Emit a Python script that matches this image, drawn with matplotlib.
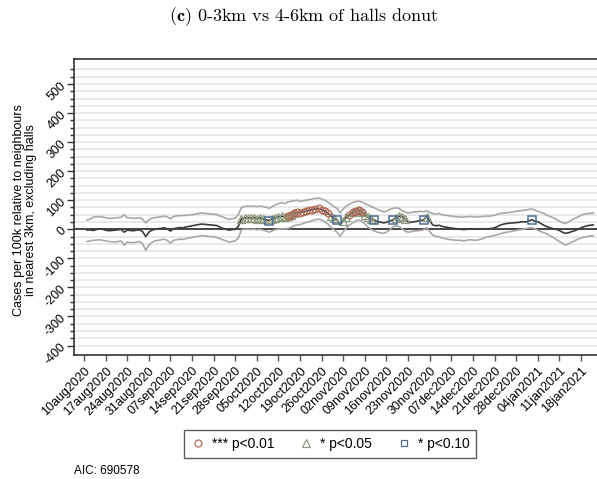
import numpy as np
import matplotlib
matplotlib.use("Agg")
import matplotlib.pyplot as plt
from matplotlib.lines import Line2D

plt.rcParams["font.family"] = ["Liberation Sans", "DejaVu Sans"]
plt.rcParams["mathtext.fontset"] = "cm"

# Days since 10aug2020 (daily series runs 11aug2020 .. 22jan2021)
days = np.arange(1, 166)

estimate = [
    -3, -2, -4, -1, 2, 0, -3, -5, -4, -3,
    -2, 0, -10, -3, -4, -5, -3, -2, -8, -25,
    -10, -3, 0, 2, 3, 5, 1, -6, 2, 4,
    6, 5, 8, 10, 12, 14, 16, 18, 17, 16,
    15, 14, 13, 8, 3, 0, -3, -1, 0, 10,
    36, 39, 40, 38, 40, 37, 39, 36, 33, 30,
    35, 40, 43, 45, 42, 47, 50, 55, 58, 57,
    60, 63, 65, 68, 70, 72, 68, 62, 55, 45,
    38, 32, 15, 30, 42, 50, 58, 62, 66, 60,
    50, 42, 36, 32, 26, 25, 22, 24, 28, 32,
    40, 45, 44, 35, 25, 24, 26, 28, 30, 32,
    44, 28, 15, 12, 14, 10, 8, 6, 4, 3,
    1, 0, -1, 0, 2, 1, 0, 1, 2, 1,
    2, 3, 5, 10, 15, 18, 20, 21, 22, 23,
    24, 26, 25, 28, 33, 28, 26, 20, 14, 9,
    5, 2, 0, -4, -10, -14, -12, -8, -5, 0,
    5, 9, 12, 14, 15,
]

upper = [
    32, 35, 42, 43, 44, 42, 40, 38, 38, 39,
    40, 42, 50, 40, 39, 38, 38, 40, 35, 22,
    32, 38, 40, 42, 43, 45, 43, 36, 44, 46,
    47, 47, 48, 49, 50, 52, 54, 56, 55, 54,
    53, 52, 51, 46, 42, 38, 34, 36, 38, 50,
    75, 78, 80, 79, 80, 78, 80, 78, 76, 72,
    78, 84, 88, 92, 88, 94, 96, 98, 100, 96,
    98, 100, 102, 105, 106, 108, 104, 100, 94, 86,
    78, 72, 56, 70, 80, 86, 92, 95, 97, 94,
    88, 84, 78, 74, 68, 64, 60, 62, 68, 72,
    74, 72, 64, 60, 56, 58, 60, 60, 62, 60,
    64, 58, 54, 52, 55, 50, 48, 47, 45, 44,
    43, 42, 42, 43, 44, 43, 42, 43, 44, 45,
    45, 46, 48, 52, 55, 56, 57, 58, 60, 62,
    63, 65, 66, 68, 70, 66, 62, 58, 55, 48,
    44, 40, 34, 28, 22, 20, 26, 32, 38, 42,
    48, 52, 54, 55, 56,
]

lower = [
    -42, -40, -38, -37, -36, -38, -40, -42, -43, -44,
    -42, -40, -55, -44, -46, -46, -44, -42, -50, -72,
    -55, -45, -40, -38, -36, -34, -38, -48, -38, -36,
    -34, -35, -32, -30, -28, -26, -24, -22, -22, -24,
    -25, -26, -28, -32, -36, -40, -44, -42, -40, -30,
    -2, 0, 1, -1, 1, -2, 0, -3, -6, -10,
    -5, -2, 1, 2, 0, 3, 6, 12, 15, 16,
    20, 24, 26, 30, 33, 35, 32, 26, 18, 8,
    -2, -10, -24, -8, 5, 14, 22, 28, 32, 28,
    18, 8, 0, -5, -10, -12, -14, -10, -2, 8,
    12, 10, 2, -6, -10, -8, -6, -5, -4, -2,
    6, -8, -20, -24, -26, -30, -32, -34, -36, -37,
    -38, -38, -40, -38, -36, -37, -38, -36, -33, -28,
    -26, -24, -21, -18, -15, -12, -10, -8, -6, -4,
    -2, 0, 2, 4, 5, 2, -3, -8, -12, -16,
    -22, -28, -35, -42, -48, -54, -50, -44, -40, -34,
    -30, -27, -25, -23, -22,
]

# Days flagged at each significance level
sig01_days = list(range(66, 80)) + list(range(86, 91))
sig05_days = (list(range(51, 59)) + list(range(61, 69)) + [80, 81, 84, 85]
              + list(range(87, 94)) + list(range(101, 105)) + [111])
sig10_days = [60, 82, 94, 100, 110, 145]

tick_days = list(range(0, 162, 7))
tick_labels = [
    "10aug2020", "17aug2020", "24aug2020", "31aug2020", "07sep2020",
    "14sep2020", "21sep2020", "28sep2020", "05oct2020", "12oct2020",
    "19oct2020", "26oct2020", "02nov2020", "09nov2020", "16nov2020",
    "23nov2020", "30nov2020", "07dec2020", "14dec2020", "21dec2020",
    "28dec2020", "04jan2021", "11jan2021", "18jan2021",
]

est = np.array(estimate, dtype=float)
up = np.array(upper, dtype=float)
lo = np.array(lower, dtype=float)

W, H = 597, 479
fig = plt.figure(figsize=(W / 100, H / 100), dpi=100)
ax = fig.add_axes([74 / W, (H - 355) / H, 527 / W, 296 / H])

ax.set_xlim(-3.24, 167.5)
ax.set_ylim(-432.6, 586)

# grid every 25 units
ax.set_yticks(np.arange(-400, 501, 100))
ax.set_yticks(np.arange(-400, 551, 25), minor=True)
ax.grid(True, which="both", axis="y", color="#e5e5e5", lw=1.2)
ax.set_axisbelow(True)

ax.axhline(0, color="#2b2b2b", lw=1.2, zorder=2)
ax.plot(days, up, color="#a8a8a8", lw=1.2, zorder=3)
ax.plot(days, lo, color="#a8a8a8", lw=1.2, zorder=3)
ax.plot(days, est, color="#3c3c3c", lw=1.2, zorder=4)

c01 = "#b06a55"
c05 = "#8b9a7c"
c10 = "#4f6d93"
idx01 = np.array(sig01_days) - 1
idx05 = np.array(sig05_days) - 1
idx10 = np.array(sig10_days) - 1
ax.plot(days[idx05], est[idx05], ls="none", marker="^", ms=5.2, mfc="none",
        mec=c05, mew=0.9, zorder=5)
ax.plot(days[idx01], est[idx01], ls="none", marker="o", ms=4.8, mfc="none",
        mec=c01, mew=0.9, zorder=6)
ax.plot(days[idx10], est[idx10], ls="none", marker="s", ms=6, mfc="none",
        mec=c10, mew=1.1, zorder=7)

ax.set_xticks(tick_days)
ax.set_xticklabels(tick_labels, rotation=45, ha="right", rotation_mode="anchor",
                   fontsize=9)
ax.set_yticklabels([str(v) for v in range(-400, 501, 100)], rotation=45,
                   ha="right", va="center", rotation_mode="anchor", fontsize=9)
ax.tick_params(axis="x", which="major", length=4, width=1, color="#555555", pad=3)
ax.tick_params(axis="y", which="major", length=5, width=1, color="#333333", pad=2)
ax.tick_params(axis="y", which="minor", length=3, width=1, color="#333333")

for side in ("left", "bottom", "top"):
    ax.spines[side].set_color("#333333")
    ax.spines[side].set_linewidth(1.2)
ax.spines["right"].set_visible(False)

fig.text(25.5 / W, 1 - 210 / H,
         "Cases per 100k relative to neighbours\nin nearest 3km, excluding halls",
         fontsize=9, linespacing=1.0, rotation=90, ha="center", va="center")

fig.text(304 / W, 1 - 17 / H,
         r"$\mathbf{(c)}$ 0-3km vs 4-6km of halls donut",
         family="cmr10", fontsize=13, ha="center", va="center")

handles = [
    Line2D([], [], ls="none", marker="o", ms=5, mfc="none", mec=c01, mew=0.9),
    Line2D([], [], ls="none", marker="^", ms=5.5, mfc="none", mec=c05, mew=0.9),
    Line2D([], [], ls="none", marker="s", ms=5, mfc="none", mec=c10, mew=0.9),
]
leg = fig.legend(handles, ["*** p<0.01", "* p<0.05", "* p<0.10"], ncol=3,
                 loc="center", bbox_to_anchor=(330 / W, 1 - 444 / H),
                 fontsize=10, frameon=True, fancybox=False,
                 handlelength=1.0, handletextpad=0.5, columnspacing=1.8,
                 borderpad=0.5)
leg.get_frame().set_edgecolor("#333333")
leg.get_frame().set_linewidth(1.0)

fig.text(74 / W, 1 - 471 / H, "AIC: 690578", fontsize=8.5, ha="left", va="center")

fig.savefig("out.png", dpi=100)
